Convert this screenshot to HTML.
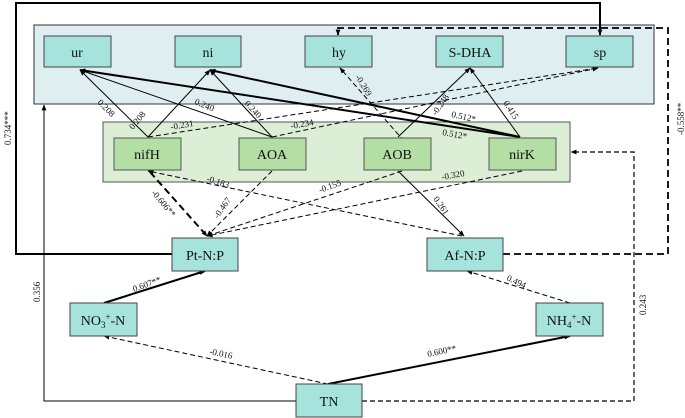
<!DOCTYPE html>
<html><head><meta charset="utf-8"><style>
body{margin:0;background:#fff}
svg{display:block}
text{font-family:"Liberation Serif",serif;fill:#111}
.b{font-size:14px}
.l{font-size:9px}
</style></head><body>
<svg width="685" height="418" viewBox="0 0 685 418" xmlns="http://www.w3.org/2000/svg">
<defs>
<marker id="a" viewBox="0 0 10 10" refX="9" refY="5" markerWidth="6" markerHeight="6" markerUnits="userSpaceOnUse" orient="auto"><path d="M0,1 L10,5 L0,9 z" fill="#000"/></marker>
</defs>
<rect x="34" y="25" width="620" height="79" fill="#dfeff1" stroke="#333"/>
<rect x="103" y="122" width="467" height="60" fill="#dcefd6" stroke="#555"/>
<g fill="none" stroke="#000">
<polyline points="172,254 16,254 16,3 600,3 600,35" stroke-width="2" marker-end="url(#a)"/>
<polyline points="503,254 668,254 668,28 338,28 338,35" stroke-width="1.8" stroke-dasharray="7,4" marker-end="url(#a)"/>
<polyline points="296,401 44,401 44,105" stroke-width="1" marker-end="url(#a)"/>
<polyline points="362,401 634,401 634,152 571,152" stroke-width="1.2" stroke-dasharray="5,3" marker-end="url(#a)"/>
<line x1="148" y1="137" x2="80" y2="70" marker-end="url(#a)"/>
<line x1="148" y1="137" x2="210" y2="70" marker-end="url(#a)"/>
<line x1="272" y1="137" x2="80" y2="70" marker-end="url(#a)"/>
<line x1="272" y1="137" x2="210" y2="70" marker-end="url(#a)"/>
<line x1="520" y1="137" x2="80" y2="70" stroke-width="2" marker-end="url(#a)"/>
<line x1="520" y1="137" x2="210" y2="70" stroke-width="2" marker-end="url(#a)"/>
<line x1="398" y1="137" x2="470" y2="68" marker-end="url(#a)"/>
<line x1="520" y1="137" x2="470" y2="68" marker-end="url(#a)"/>
<line x1="404" y1="141" x2="340" y2="68" stroke-dasharray="5,3" marker-end="url(#a)"/>
<line x1="148" y1="137" x2="598" y2="68" stroke-dasharray="5,3" marker-end="url(#a)"/>
<line x1="272" y1="137" x2="598" y2="68" stroke-dasharray="5,3" marker-end="url(#a)"/>
<line x1="150" y1="172" x2="207" y2="236" stroke-width="2" stroke-dasharray="7,4" marker-end="url(#a)"/>
<line x1="272" y1="171" x2="207" y2="236" stroke-dasharray="5,3" marker-end="url(#a)"/>
<line x1="402" y1="171" x2="207" y2="236" stroke-dasharray="5,3" marker-end="url(#a)"/>
<line x1="522" y1="171" x2="207" y2="236" stroke-dasharray="5,3" marker-end="url(#a)"/>
<line x1="462" y1="236" x2="148" y2="171" stroke-dasharray="5,3" marker-end="url(#a)"/>
<line x1="398" y1="171" x2="464" y2="236" marker-end="url(#a)"/>
<line x1="104" y1="303" x2="205" y2="271" stroke-width="2" marker-end="url(#a)"/>
<line x1="570" y1="303" x2="467" y2="271" stroke-dasharray="5,3" marker-end="url(#a)"/>
<line x1="328" y1="384" x2="104" y2="336" stroke-dasharray="5,3" marker-end="url(#a)"/>
<line x1="328" y1="384" x2="570" y2="336" stroke-width="2" marker-end="url(#a)"/>
</g>
<g fill="#a6e3dc" stroke="#444">
<rect x="44" y="36" width="67" height="31"/>
<rect x="175" y="36" width="66" height="31"/>
<rect x="305" y="36" width="67" height="31"/>
<rect x="436" y="36" width="67" height="31"/>
<rect x="566" y="36" width="67" height="31"/>
<rect x="172" y="238" width="66" height="33"/>
<rect x="427" y="238" width="76" height="33"/>
<rect x="70" y="303" width="67" height="33"/>
<rect x="536" y="303" width="67" height="33"/>
<rect x="296" y="384" width="66" height="33"/>
</g>
<g fill="#b3dfa5" stroke="#555">
<rect x="114" y="138" width="67" height="32"/>
<rect x="239" y="138" width="67" height="32"/>
<rect x="364" y="138" width="67" height="32"/>
<rect x="489" y="138" width="67" height="32"/>
</g>
<g class="b" text-anchor="middle">
<text x="77" y="57">ur</text><text x="208" y="57">ni</text><text x="339" y="57">hy</text><text x="470" y="57">S-DHA</text><text x="600" y="57">sp</text>
<text x="147" y="159">nifH</text><text x="272" y="159">AOA</text><text x="397" y="159">AOB</text><text x="522" y="159">nirK</text>
<text x="205" y="260">Pt-N:P</text><text x="465" y="260">Af-N:P</text>
<text x="103" y="325">NO<tspan font-size="9" dy="3">3</tspan><tspan font-size="9" dy="-8">+</tspan><tspan dy="5">-N</tspan></text>
<text x="569" y="325">NH<tspan font-size="9" dy="3">4</tspan><tspan font-size="9" dy="-8">+</tspan><tspan dy="5">-N</tspan></text>
<text x="329" y="406">TN</text>
</g>
<g class="l">
<text transform="translate(97,103) rotate(45)">0.208</text>
<text transform="translate(133,130) rotate(-50)">0.208</text>
<text transform="translate(194,104) rotate(22)">0.240</text>
<text transform="translate(244,104) rotate(47)">0.240</text>
<text transform="translate(171,130) rotate(-10)">-0.231</text>
<text transform="translate(291,129) rotate(-10)">-0.234</text>
<text transform="translate(355,77) rotate(58)">-0.269</text>
<text transform="translate(436,116) rotate(-55)">-0.248</text>
<text transform="translate(503,103) rotate(57)">0.415</text>
<text transform="translate(451,117) rotate(12)">0.512*</text>
<text transform="translate(442,135) rotate(10)">0.512*</text>
<text transform="translate(206,181) rotate(18)">-0.183</text>
<text transform="translate(151,193) rotate(50)">-0.606**</text>
<text transform="translate(218,219) rotate(-55)">-0.467</text>
<text transform="translate(320,193) rotate(-20)">-0.155</text>
<text transform="translate(442,180) rotate(-10)">-0.320</text>
<text transform="translate(433,199) rotate(55)">0.261</text>
<text transform="translate(134,292) rotate(-20)">0.607**</text>
<text transform="translate(506,280) rotate(25)">0.494</text>
<text transform="translate(209,354) rotate(12)">-0.016</text>
<text transform="translate(428,357) rotate(-12)">0.600**</text>
<text transform="translate(11,145) rotate(-90)">0.734***</text>
<text transform="translate(40,302) rotate(-90)">0.356</text>
<text transform="translate(684,135) rotate(-90)">-0.558**</text>
<text transform="translate(646,315) rotate(-90)">0.243</text>
</g>
</svg>
</body></html>
